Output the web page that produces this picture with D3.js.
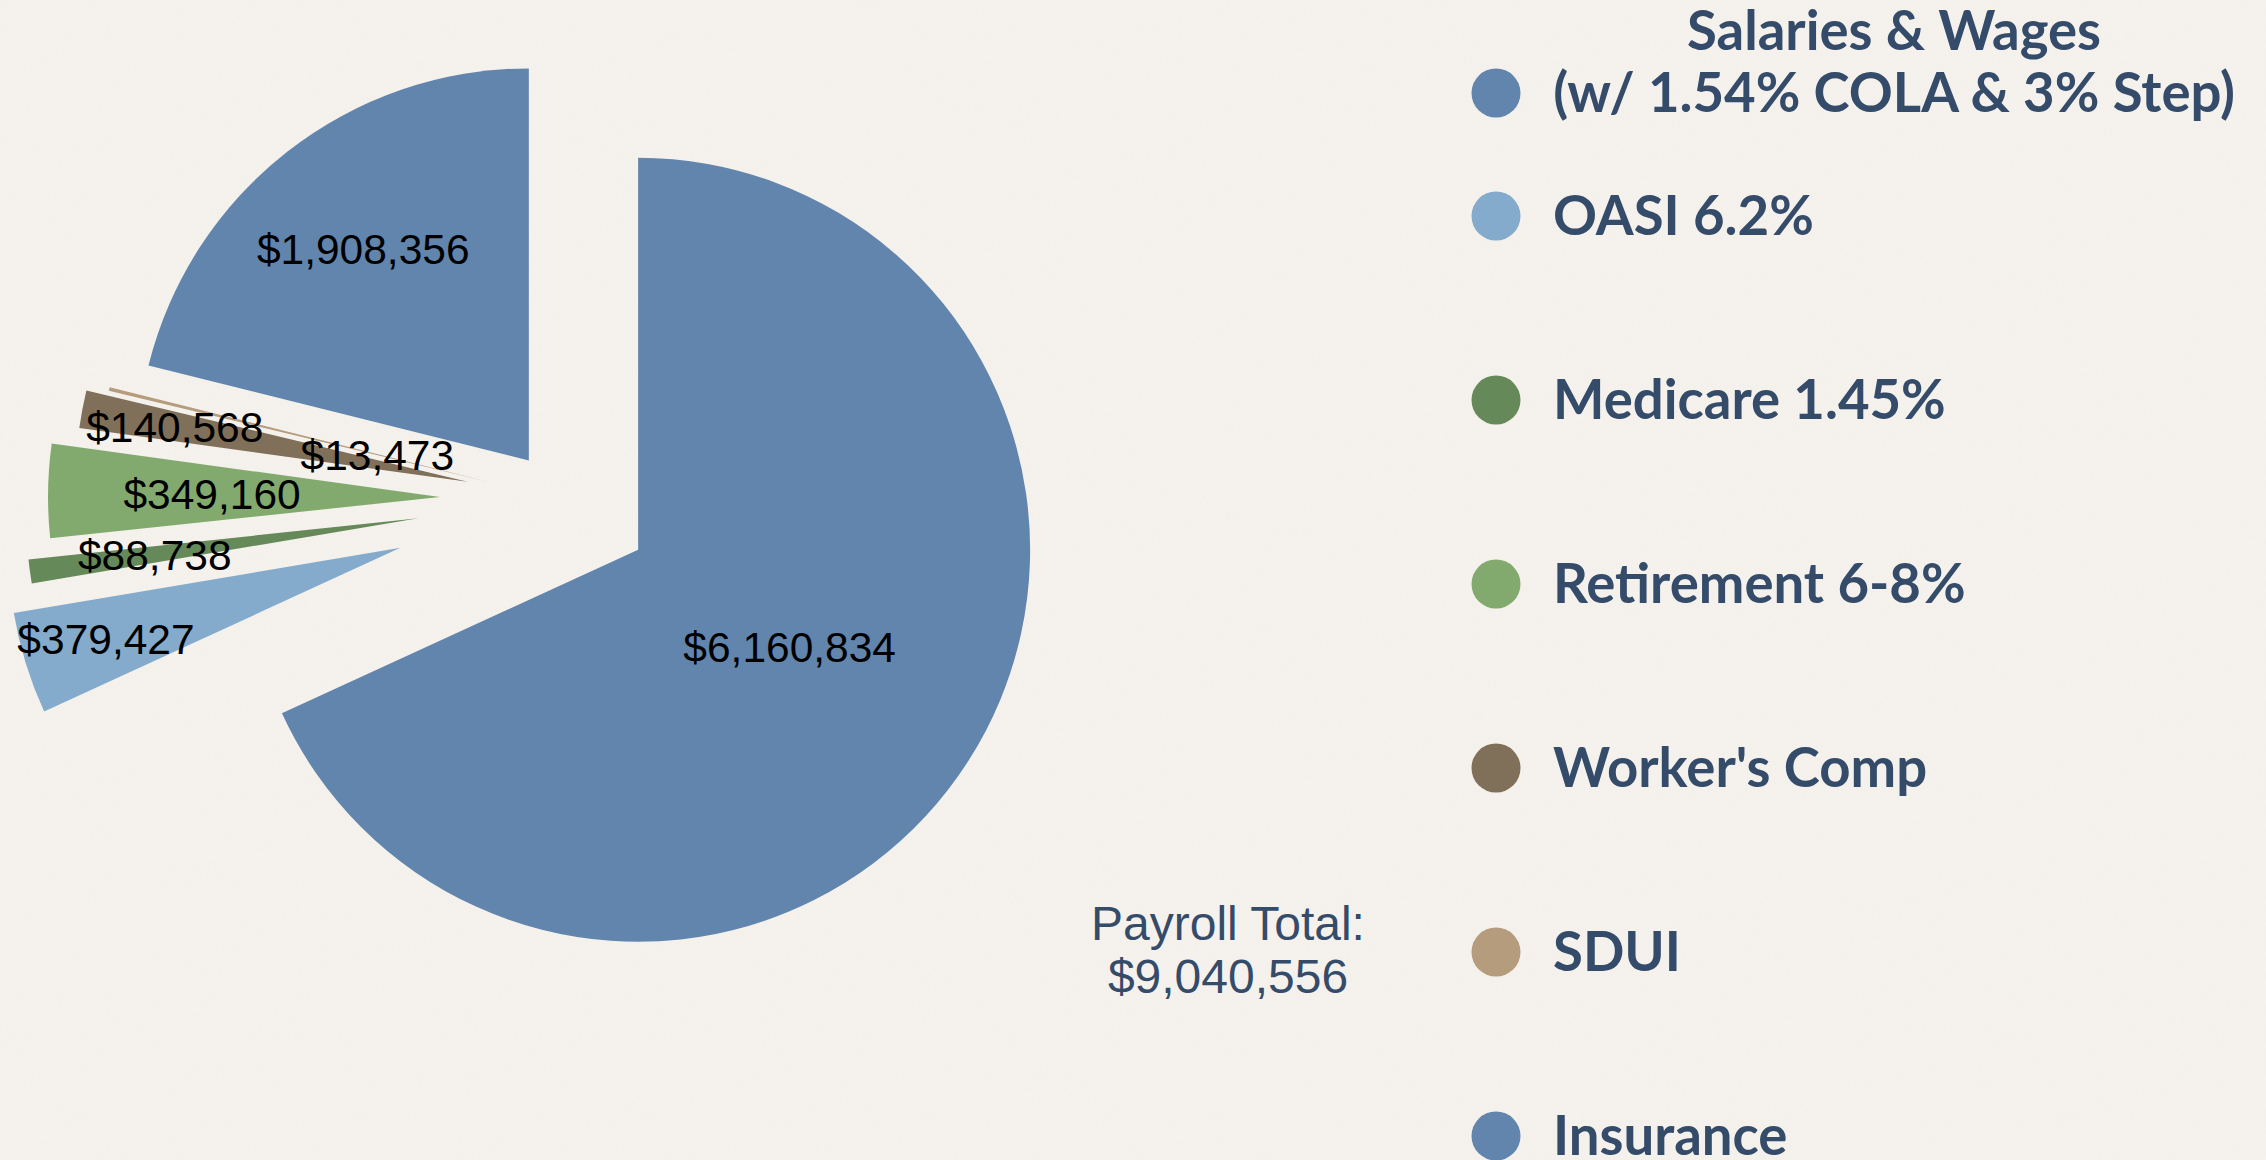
<!DOCTYPE html>
<html>
<head>
<meta charset="utf-8">
<script src="https://cdn.jsdelivr.net/npm/d3@7"></script>
<style>
  html, body { margin: 0; padding: 0; background: #f6f3ee; }
  svg { display: block; }
</style>
</head>
<body>
<svg id="chart" width="2266" height="1160"></svg>
<script>
// Payroll components, in pie order (clockwise from 12 o'clock)
const categories = [
  "Salaries & Wages\n(w/ 1.54% COLA & 3% Step)",
  "OASI 6.2%",
  "Medicare 1.45%",
  "Retirement 6-8%",
  "Worker's Comp",
  "SDUI",
  "Insurance"
];
const amounts = [6160834, 379427, 88738, 349160, 140568, 13473, 1908356];
const totalLabel = ["Payroll Total:", "$9,040,556"];

// Styling
const colors = ["#6285ad", "#84abcb", "#66895a", "#83aa6e", "#806f59", "#b59c7c", "#6285ad"];
const explode = [94, 166, 142, 119, 93, 71, 49];       // slice pull-out distance
const labelDist = [180, 308, 266, 228, 298, 116, 269];  // label distance from slice apex

const svg = d3.select("#chart");
const W = 2266, H = 1160;

// Paper texture
const defs = svg.append("defs");
const f = defs.append("filter").attr("id", "paper").attr("x", 0).attr("y", 0).attr("width", "100%").attr("height", "100%");
f.append("feTurbulence").attr("type", "fractalNoise").attr("baseFrequency", "0.9 0.15").attr("numOctaves", 2).attr("seed", 3).attr("result", "n");
f.append("feColorMatrix").attr("in", "n").attr("type", "matrix")
  .attr("values", "0 0 0 0 0.55  0 0 0 0 0.5  0 0 0 0 0.45  0 0 0 0.06 0");
svg.append("rect").attr("width", W).attr("height", H).attr("fill", "#f6f3ee");
svg.append("rect").attr("width", W).attr("height", H).attr("filter", "url(#paper)");

// Pie
const radius = 392;
const cx = 559, cy = 499;
const pie = d3.pie().sort(null).value(d => d);
const arcs = pie(amounts);
const arc = d3.arc().innerRadius(0).outerRadius(radius);
const fmt = d3.format("$,");

const dir = a => [Math.sin(a), -Math.cos(a)];

const slices = svg.append("g").attr("class", "slices");
arcs.forEach((a, i) => {
  const mid = (a.startAngle + a.endAngle) / 2;
  const [dx, dy] = dir(mid);
  const ox = cx + dx * explode[i], oy = cy + dy * explode[i];
  slices.append("path")
    .attr("d", arc(a))
    .attr("transform", `translate(${ox},${oy})`)
    .attr("fill", colors[i]);
});

const labels = svg.append("g").attr("class", "values");
arcs.forEach((a, i) => {
  const mid = (a.startAngle + a.endAngle) / 2;
  const [dx, dy] = dir(mid);
  const ox = cx + dx * explode[i], oy = cy + dy * explode[i];
  labels.append("text")
    .attr("x", ox + dx * labelDist[i])
    .attr("y", oy + dy * labelDist[i])
    .attr("dy", "0.36em")
    .attr("text-anchor", "middle")
    .attr("font-family", "'Liberation Sans', Arial, sans-serif")
    .attr("font-size", 42.5)
    .attr("fill", "#000")
    .text(fmt(a.data));
});

// Total
const total = svg.append("text")
  .attr("x", 1228)
  .attr("y", 940)
  .attr("text-anchor", "middle")
  .attr("font-family", "'Liberation Sans', Arial, sans-serif")
  .attr("font-size", 48)
  .attr("fill", "#354b6a");
totalLabel.forEach((t, i) => {
  total.append("tspan").attr("x", 1228).attr("dy", i ? 53 : 0).text(t);
});

// Legend
const legendY = d3.scaleLinear().domain([1, 2]).range([216, 400]);
const legend = svg.append("g").attr("class", "legend")
  .attr("font-family", "Lato, 'Open Sans', sans-serif")
  .attr("font-weight", 700)
  .attr("font-size", 54.5)
  .attr("fill", "#354b6a");

categories.forEach((c, i) => {
  const y = i === 0 ? 93 : legendY(i);
  legend.append("circle")
    .attr("cx", 1496).attr("cy", y).attr("r", 24.5)
    .attr("fill", colors[i]);
  const lines = c.split("\n");
  if (lines.length > 1) {
    const t = legend.append("text").attr("text-anchor", "middle");
    lines.forEach((l, k) => {
      t.append("tspan").attr("x", 1894).attr("y", y + 19 - (lines.length - 1 - k) * 62).text(l);
    });
  } else {
    legend.append("text").attr("x", 1553).attr("y", y + 19).text(c);
  }
});
</script>
</body>
</html>
